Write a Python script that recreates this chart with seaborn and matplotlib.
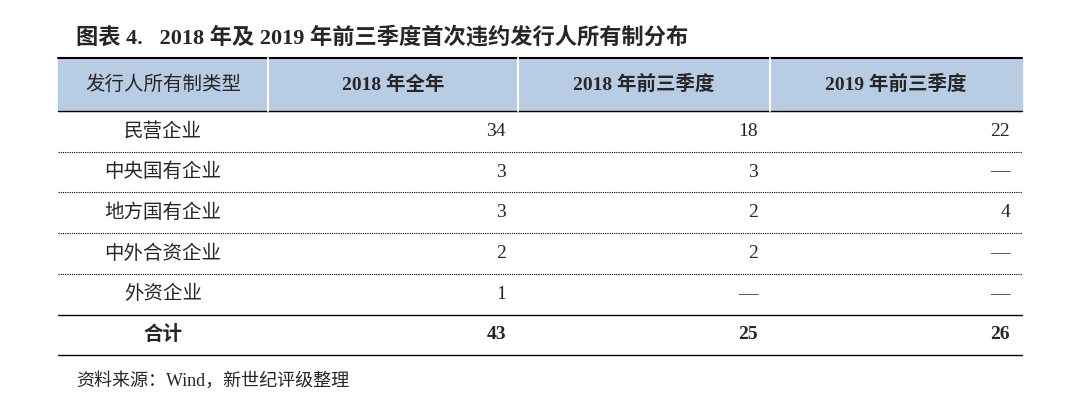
import matplotlib
matplotlib.use("Agg")
import matplotlib.pyplot as plt
import seaborn as sns

sns.set_theme(style="white")
plt.rcParams["font.family"] = ["Liberation Serif", "Noto Sans CJK SC"]

title = "图表 4.   2018 年及 2019 年前三季度首次违约发行人所有制分布"
header = ["发行人所有制类型", "2018 年全年", "2018 年前三季度", "2019 年前三季度"]
categories = ["民营企业", "中央国有企业", "地方国有企业", "中外合资企业", "外资企业"]
y2018_full = ["34", "3", "3", "2", "1"]
y2018_q3 = ["18", "3", "2", "2", "—"]
y2019_q3 = ["22", "—", "4", "—", "—"]
totals = ["43", "25", "26"]
source = "资料来源：Wind，新世纪评级整理"

fig = plt.figure(figsize=(10.8, 4.19), dpi=100)
ax = fig.add_axes([0, 0, 1, 1])
ax.set_xlim(0, 1080)
ax.set_ylim(419, 0)
ax.axis("off")

cols = [58, 268, 518, 770, 1022]
top, head_bot, row_h = 58, 111, 40.7

ax.text(76, 38, title, fontsize=16, fontweight="bold", va="center", ha="left")
ax.add_patch(plt.Rectangle((cols[0], top), cols[-1] - cols[0], head_bot - top,
                           color="#B8CCE4", zorder=0))
ax.plot([cols[0], cols[-1]], [top, top], color="black", lw=1.5)
ax.plot([cols[0], cols[-1]], [head_bot, head_bot], color="black", lw=1)
for x in cols[1:-1]:
    ax.plot([x, x], [top, head_bot], color="white", lw=1.5)
for i, h in enumerate(header):
    ax.text((cols[i] + cols[i + 1]) / 2, (top + head_bot) / 2, h, fontsize=14,
            ha="center", va="center", fontweight="normal" if i == 0 else "bold")

rows = [[c, a, b, d] for c, a, b, d in zip(categories, y2018_full, y2018_q3, y2019_q3)]
rows.append(["合计"] + totals)
for r, row in enumerate(rows):
    y0 = head_bot + r * row_h
    yc = y0 + row_h / 2
    bold = "bold" if r == len(rows) - 1 else "normal"
    ax.text((cols[0] + cols[1]) / 2, yc, row[0], fontsize=14, ha="center", va="center",
            fontweight=bold)
    for j in range(1, 4):
        ax.text(cols[j + 1] - 12, yc, row[j], fontsize=14, ha="right", va="center",
                fontweight=bold)
    y1 = y0 + row_h
    if r < len(rows) - 2:
        ax.plot([cols[0], cols[-1]], [y1, y1], color="black", lw=0.8, ls=(0, (1, 1)))
    else:
        ax.plot([cols[0], cols[-1]], [y1, y1], color="black", lw=1)

ax.text(76, 381, source, fontsize=13, ha="left", va="center")
fig.savefig("out.png", dpi=100)
